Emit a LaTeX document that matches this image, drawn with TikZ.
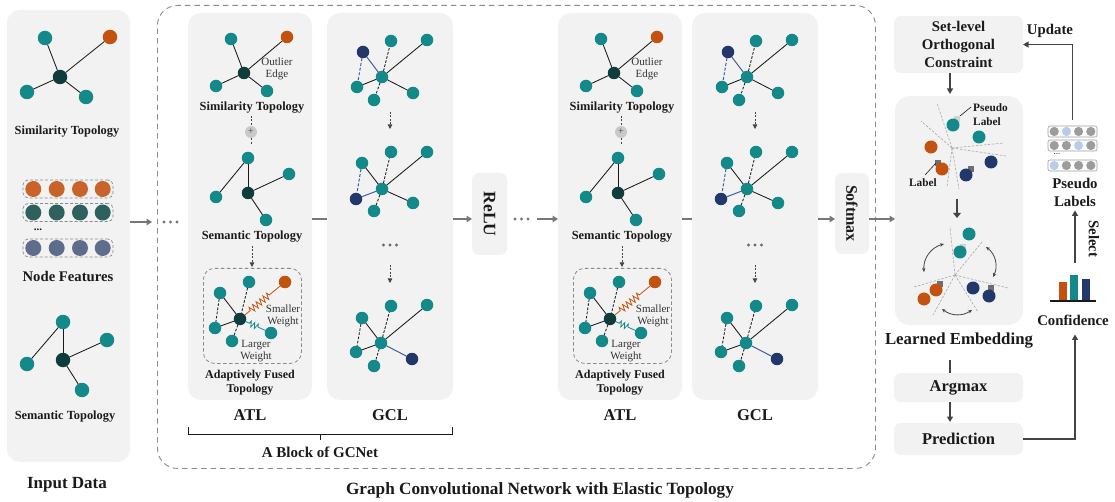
\documentclass[tikz,border=0pt]{standalone}
\usepackage{fontspec}
\setmainfont{Liberation Serif}
\usepackage{graphicx}
\usetikzlibrary{arrows.meta,decorations.pathmorphing,calc}

\definecolor{panelgray}{HTML}{F2F2F2}
\definecolor{tealc}{HTML}{13898A}
\definecolor{darkc}{HTML}{0F3D3D}
\definecolor{orangec}{HTML}{C2520E}
\definecolor{navyc}{HTML}{22386A}
\definecolor{bluee}{HTML}{3F5E9E}
\definecolor{featO}{HTML}{C9632A}
\definecolor{featT}{HTML}{2E615E}
\definecolor{featS}{HTML}{5E6D8C}
\definecolor{arrowg}{HTML}{777777}
\definecolor{darkg}{HTML}{444444}
\definecolor{txt}{HTML}{1A1A1A}
\definecolor{notec}{HTML}{333333}
\definecolor{edgec}{HTML}{1A1A1A}
\definecolor{dashg}{HTML}{8A8A8A}
\definecolor{sepg}{HTML}{A8A8A8}
\definecolor{plgray}{HTML}{9C9C9C}
\definecolor{pllight}{HTML}{B7CBEA}
\definecolor{tagl}{HTML}{D2D2D2}
\definecolor{tagd}{HTML}{6E6E6E}
\definecolor{plusg}{HTML}{C9C9C9}

\begin{document}
\begin{tikzpicture}[x=1pt,y=-1pt,
  panel/.style={fill=panelgray, rounded corners=13pt, anchor=north west, inner sep=0pt, outer sep=0pt},
  box/.style={fill=panelgray, rounded corners=7pt, anchor=north west, inner sep=0pt, outer sep=0pt, text=txt},
  v/.style={circle, inner sep=0pt, outer sep=0pt, minimum size=12.5pt},
  vt/.style={v, fill=tealc}, vd/.style={v, fill=darkc},
  vo/.style={v, fill=orangec}, vn/.style={v, fill=navyc},
  vbig/.style={minimum size=14.5pt},
  ed/.style={line width=0.85pt, draw=edgec},
  edd/.style={ed, dash pattern=on 2.6pt off 1.6pt},
  eb/.style={line width=1pt, draw=bluee},
  ebd/.style={eb, dash pattern=on 3pt off 1.8pt},
  seg/.style={line width=2pt, draw=arrowg},
  arr/.style={line width=1.4pt, draw=arrowg, -{Triangle[length=5.5pt,width=6.5pt]}},
  karr/.style={line width=1.3pt, draw=darkg, -{Triangle[length=5.5pt,width=6pt]}},
  darr/.style={line width=0.8pt, draw=darkg, dash pattern=on 2pt off 1.5pt, -{Triangle[length=4.5pt,width=4.5pt]}},
  dl/.style={line width=0.8pt, draw=darkg, dash pattern=on 2pt off 1.5pt},
  sepline/.style={draw=sepg, line width=0.6pt, dash pattern=on 2.5pt off 1.5pt},
  carr/.style={line width=0.8pt, draw=darkg, {Stealth[length=4pt,width=3.5pt]}-{Stealth[length=4pt,width=3.5pt]}},
  captx/.style={font=\bfseries\fontsize{12.4}{14}\selectfont, text=txt, align=center, inner sep=0pt},
  capm/.style={font=\bfseries\fontsize{12.4}{14}\selectfont, text=txt, align=center, inner sep=0pt},
  headtx/.style={font=\bfseries\fontsize{16.5}{18}\selectfont, text=txt, inner sep=0pt},
  midtx/.style={font=\bfseries\fontsize{14.8}{18}\selectfont, text=txt, align=center, inner sep=0pt},
  notetx/.style={font=\fontsize{11}{12.5}\selectfont, text=notec, align=center, inner sep=0pt},
  smalltx/.style={font=\bfseries\fontsize{11.3}{14}\selectfont, text=txt, inner sep=0pt},
]
\useasboundingbox (0,0) rectangle (1115,502);
\coordinate (row) at (0,219);

% ---------- input data ----------
\node[panel, minimum width=123pt, minimum height=452pt] (inp) at (7,10) {};
\node[vd, vbig] (is0) at (60,77) {};
\node[vt, vbig] (is1) at (45,38) {};
\node[vo, vbig] (is2) at (110,37) {};
\node[vt, vbig] (is3) at (27,92) {};
\node[vt, vbig] (is4) at (86,97) {};
\foreach \n in {1,...,4} \draw[ed] (is0) -- (is\n);
\node[captx] (istxt) at (67,132) {Similarity Topology};

\foreach \y/\c [count=\r] in {189/featO, 212.5/featT, 248/featS} {
  \node[draw=dashg, dash pattern=on 3pt off 2pt, line width=0.7pt, rounded corners=5pt,
        minimum width=90pt, minimum height=18pt, inner sep=0pt] (feat\r) at (68,\y) {};
  \foreach \x in {33.3,56.7,80,102.7} \fill[\c] (\x,\y) circle (8);
}
\node[font=\bfseries\fontsize{11}{11}\selectfont, text=txt] at (38,230) {...};
\node[font=\bfseries\fontsize{14.7}{16}\selectfont, text=txt, inner sep=0pt] (nftxt) at (68,276) {Node Features};

\node[vt, vbig] (im1) at (63,322) {};
\node[vt, vbig] (im2) at (27,364) {};
\node[vd, vbig] (im0) at (63,360) {};
\node[vt, vbig] (im3) at (107,340) {};
\node[vt, vbig] (im4) at (82,390) {};
\draw[ed] (im1) -- (im2);
\draw[ed] (im1) -- (im0);
\draw[ed] (im0) -- (im3);
\draw[ed] (im0) -- (im4);
\node[captx] (imtxt) at (65,417) {Semantic Topology};
\node[font=\bfseries\fontsize{17}{18}\selectfont, text=txt] (inptxt) at (67,485) {Input Data};

% ---------- GCNet frame ----------
\node[draw=dashg, line width=0.9pt, dash pattern=on 5.5pt off 4pt, rounded corners=20pt,
      anchor=north west, minimum width=718pt, minimum height=463pt, inner sep=0pt] (gcn) at (157,5) {};
\node[font=\bfseries\fontsize{17.2}{18}\selectfont, text=txt] (gcntxt) at (540,490)
  {Graph Convolutional Network with Elastic Topology};

\coordinate (gcnin) at (152,222);
\draw[arr] (inp.east |- gcnin) -- (gcnin);
\foreach \i in {0,1,2} \fill[arrowg] (164+\i*6.5,222) circle (1.7);

% ---------- two GCNet blocks ----------
\foreach \ax/\gx/\p in {0/0/a, 370/365/b} {
  \begin{scope}[xshift=\ax pt]
    \node[panel, minimum width=124pt, minimum height=387pt] (\p-atl) at (188,13) {};
    % similarity topology
    \node[vd] (\p-s0) at (244,73) {};
    \node[vt] (\p-s1) at (231,39) {};
    \node[vo] (\p-s2) at (287,37) {};
    \node[vt] (\p-s3) at (216,86) {};
    \node[vt] (\p-s4) at (267,91) {};
    \foreach \n in {1,...,4} \draw[ed] (\p-s0) -- (\p-s\n);
    \node[notetx] at (277,69) {Outlier\\Edge};
    \node[capm] (\p-simtxt) at (252,108) {Similarity Topology};
    \node[circle, fill=plusg, minimum size=12pt, inner sep=0pt, text=darkg,
          font=\fontsize{10}{10}\selectfont] (\p-plus) at (251,132) {+};
    \draw[dl] (\p-simtxt.south) ++(-1,2) -- (\p-plus);
    \draw[dl, shorten >=6pt] (\p-plus) -- (\p-plus |- 0,151);
    % semantic topology
    \node[vt] (\p-m1) at (248,158) {};
    \node[vt] (\p-m2) at (216,197) {};
    \node[vd] (\p-m0) at (248,193) {};
    \node[vt] (\p-m3) at (289,174) {};
    \node[vt] (\p-m4) at (266,220) {};
    \draw[ed] (\p-m1) -- (\p-m2);
    \draw[ed] (\p-m1) -- (\p-m0);
    \draw[ed] (\p-m0) -- (\p-m3);
    \draw[ed] (\p-m0) -- (\p-m4);
    \node[capm] (\p-semtxt) at (252,237) {Semantic Topology};
    % adaptively fused topology
    \node[draw=dashg, line width=0.8pt, dash pattern=on 3.5pt off 2.5pt, rounded corners=11pt,
          anchor=north west, minimum width=98pt, minimum height=95pt, inner sep=0pt] (\p-fbox) at (203,268) {};
    \draw[darr, shorten <=3pt, shorten >=1pt] (\p-semtxt.south) -- (\p-fbox.north -| \p-semtxt.south);
    \node[vt] (\p-f1) at (220,293) {};
    \node[vt] (\p-f2) at (249,282) {};
    \node[vo] (\p-f3) at (285,282) {};
    \node[vd] (\p-f0) at (240,319) {};
    \node[vt] (\p-f4) at (215,328) {};
    \node[vt] (\p-f5) at (232,341) {};
    \node[vt] (\p-f6) at (271,333) {};
    \draw[ed] (\p-f1) -- (\p-f0);
    \draw[edd] (\p-f1) -- (\p-f4);
    \draw[edd] (\p-f2) -- (\p-f0);
    \draw[ed] (\p-f4) -- (\p-f0);
    \draw[edd] (\p-f0) -- (\p-f5);
    \draw[orangec, line width=0.8pt, decorate,
          decoration={zigzag, segment length=4.5pt, amplitude=3.2pt, pre length=7pt, post length=13pt}] (\p-f0) -- (\p-f3);
    \draw[tealc, line width=0.8pt, decorate,
          decoration={zigzag, segment length=3.8pt, amplitude=2.8pt, pre length=4pt, post length=7pt}] (\p-f0) -- (\p-f6);
    \node[notetx] at (283,316) {Smaller\\Weight};
    \node[notetx] at (256,351) {Larger\\Weight};
    \node[capm, font=\bfseries\fontsize{12}{14}\selectfont] at (250,383) {Adaptively Fused\\Topology};
    \node[headtx] at (250,415) {ATL};
  \end{scope}
  \begin{scope}[xshift=\gx pt]
    \node[panel, minimum width=126pt, minimum height=387pt] (\p-gcl) at (327,13) {};
    % first layer
    \node[vt] (\p-ac) at (382,77) {};
    \node[vn] (\p-an) at (363,52) {};
    \node[vt] (\p-a1) at (391,41) {};
    \node[vt] (\p-a2) at (427,40) {};
    \node[vt] (\p-a3) at (357,87) {};
    \node[vt] (\p-a4) at (374,100) {};
    \node[vt] (\p-a5) at (413,93) {};
    \draw[eb] (\p-an) -- (\p-ac);
    \draw[ebd] (\p-an) -- (\p-a3);
    \draw[edd] (\p-ac) -- (\p-a1);
    \draw[ed] (\p-ac) -- (\p-a2);
    \draw[ed] (\p-ac) -- (\p-a3);
    \draw[edd] (\p-ac) -- (\p-a4);
    \draw[ed] (\p-ac) -- (\p-a5);
    \coordinate (\p-d1) at (390,112);
    \coordinate (\p-d2) at (390,129);
    \draw[darr] (\p-d1) -- (\p-d2);
    % second layer
    \node[vt] (\p-bc) at (382,189) {};
    \node[vt] (\p-b0) at (362,163) {};
    \node[vt] (\p-b1) at (391,152) {};
    \node[vt] (\p-b2) at (427,152) {};
    \node[vn] (\p-bn) at (356,199) {};
    \node[vt] (\p-b4) at (374,211) {};
    \node[vt] (\p-b5) at (413,203) {};
    \draw[ed] (\p-b0) -- (\p-bc);
    \draw[ebd] (\p-b0) -- (\p-bn);
    \draw[eb] (\p-bn) -- (\p-bc);
    \draw[edd] (\p-bc) -- (\p-b1);
    \draw[ed] (\p-bc) -- (\p-b2);
    \draw[edd] (\p-bc) -- (\p-b4);
    \draw[ed] (\p-bc) -- (\p-b5);
    \foreach \i in {-1,0,1} \fill[darkg!80] (390+\i*6.5,245) circle (1.7);
    \coordinate (\p-d3) at (390,265);
    \coordinate (\p-d4) at (390,283);
    \draw[darr] (\p-d3) -- (\p-d4);
    % last layer
    \node[vt] (\p-cc) at (381,343) {};
    \node[vt] (\p-c0) at (362,318) {};
    \node[vt] (\p-c1) at (391,306) {};
    \node[vt] (\p-c2) at (427,305) {};
    \node[vt] (\p-c3) at (356,352) {};
    \node[vt] (\p-c4) at (374,366) {};
    \node[vn] (\p-cn) at (412,359) {};
    \draw[ed] (\p-c0) -- (\p-cc);
    \draw[edd] (\p-c0) -- (\p-c3);
    \draw[edd] (\p-cc) -- (\p-c1);
    \draw[ed] (\p-cc) -- (\p-c2);
    \draw[ed] (\p-cc) -- (\p-c3);
    \draw[edd] (\p-cc) -- (\p-c4);
    \draw[eb] (\p-cc) -- (\p-cn);
    \node[headtx] at (390,415) {GCL};
  \end{scope}
  \draw[seg] (\p-atl.east |- row) -- (\p-gcl.west |- row);
}

% brace under the first block
\coordinate (brl) at (188,427);
\coordinate (brr) at (452,427);
\coordinate (brm) at (320,434);
\draw[line width=1pt, txt] (brl) -- (brl |- brm) -- (brr |- brm) -- (brr);
\draw[line width=1pt, txt] (brm) -- ++(0,6);
\node[font=\bfseries\fontsize{15}{16}\selectfont, text=txt] (blocktxt) at (320,452) {A Block of GCNet};

% ReLU and Softmax
\node[box, anchor=center, minimum width=35pt, minimum height=82pt,
      font=\bfseries\fontsize{17.5}{18}\selectfont] (relu) at (489.5,214) {\rotatebox{-90}{ReLU}};
\node[box, anchor=center, minimum width=34pt, minimum height=81pt,
      font=\bfseries\fontsize{16}{18}\selectfont] (soft) at (852,213.5) {\rotatebox{-90}{Softmax}};
\draw[arr] (a-gcl.east |- row) -- (relu.west |- row);
\foreach \i in {0,1,2} \fill[arrowg] (515+\i*6.5,219) circle (1.7);
\coordinate (bdots) at (537,219);
\draw[arr] (bdots) -- (b-atl.west |- row);
\draw[arr] (b-gcl.east |- row) -- (soft.west |- row);

% ---------- right part ----------
\node[panel, minimum width=128pt, minimum height=229pt, rounded corners=15pt] (emb) at (895,96) {};
\draw[arr] (soft.east |- row) -- (emb.west |- row);

\node[box, minimum width=129pt, minimum height=57pt, align=center,
      font=\bfseries\fontsize{14.8}{18}\selectfont] (solc) at (894,16) {Set-level\\Orthogonal\\Constraint};
\coordinate (vx) at (950,0);
\draw[karr, shorten >=2pt] (solc.south -| vx) -- (emb.north -| vx);

% embedding before training
\coordinate (ec1) at (952,148);
\foreach \t in {(937,103),(921,121),(1004,143),(1006,156),(947,187),(959,189)} \draw[sepline] (ec1) -- \t;
\fill[tagl] (954,116) rectangle ++(6,6);
\fill[tagd] (935,160) rectangle ++(6,6);
\fill[tagd] (968,166) rectangle ++(6,6);
\node[vt, minimum size=13pt] (e1) at (953,125) {};
\node[vt, minimum size=13pt] (e2) at (979,137) {};
\node[vo, minimum size=13pt] (e3) at (931,147) {};
\node[vo, minimum size=13pt] (e4) at (942,169) {};
\node[vn, minimum size=13pt] (e5) at (966,175) {};
\node[vn, minimum size=13pt] (e6) at (991,162) {};
\node[smalltx, align=left, anchor=west] (pltag) at (973,115) {Pseudo\\Label};
\draw[line width=0.6pt, txt] (960,116) -- (971,107);
\node[smalltx] (ltag) at (923,183) {Label};
\draw[line width=0.6pt, txt] (936,163) -- (925,175);

\coordinate (ta) at (957,199);
\coordinate (tb) at (957,218);
\draw[line width=2pt, draw=darkg, -{Triangle[length=5pt,width=7.5pt]}] (ta) -- (tb);

% embedding after training
\coordinate (ec2) at (955,275);
\foreach \t in {(950,227),(982,242),(914,287),(1008,288),(933,315),(978,312)} \draw[sepline] (ec2) -- \t;
\fill[tagl] (960,244) rectangle ++(6,6);
\fill[tagd] (937,281) rectangle ++(6,6);
\fill[tagd] (988,285) rectangle ++(6,6);
\node[vt, minimum size=13pt] (f1) at (969,234) {};
\node[vt, minimum size=13pt] (f2) at (960,252) {};
\node[vo, minimum size=13pt] (f3) at (936,290) {};
\node[vo, minimum size=13pt] (f4) at (924,299) {};
\node[vn, minimum size=13pt] (f5) at (973,288) {};
\node[vn, minimum size=13pt] (f6) at (989,296) {};
\draw[carr] (944,244) to[bend right=40] (924,272);
\draw[carr] (986,247) to[bend left=40] (993,277);
\draw[carr] (942,309) to[bend right=35] (972,310);

\node[font=\bfseries\fontsize{16.8}{18}\selectfont, text=txt] (lemb) at (959,341) {Learned Embedding};
\node[box, minimum width=129pt, minimum height=29pt, font=\bfseries\fontsize{16.5}{18}\selectfont] (argm) at (894,373) {Argmax};
\node[box, minimum width=129pt, minimum height=32pt, font=\bfseries\fontsize{16.5}{18}\selectfont] (pred) at (894,423) {Prediction};
\draw[line width=1.3pt, draw=darkg, shorten <=8pt] (lemb.south -| vx) -- (argm.north -| vx);
\draw[karr, shorten >=1pt] (argm.south -| vx) -- (pred.north -| vx);

% pseudo labels
\foreach \y/\h [count=\r] in {131.5/2, 145.5/3, 165.5/1} {
  \node[draw=plgray, line width=0.6pt, rounded corners=2pt, minimum width=49pt, minimum height=11pt,
        inner sep=0pt] (pl\r) at (1072.5,\y) {};
  \foreach \x [count=\k] in {1054.2,1066.4,1078.6,1090.8} {
    \ifnum\k=\h \fill[pllight] (\x,\y) circle (4.6); \else \fill[plgray] (\x,\y) circle (4.6); \fi
  }
}
\node[font=\fontsize{9}{9}\selectfont, text=txt] at (1057,154) {...};
\node[midtx] (pltxt) at (1075,192) {Pseudo\\Labels};
\node[midtx] (updtxt) at (1050,31) {Update};
\draw[karr, shorten <=6pt] (pl1.north) |- (solc.east);

% confidence
\fill[orangec] (1059,282) rectangle (1067,301);
\fill[tealc] (1070,275) rectangle (1078,301);
\fill[navyc] (1082,279) rectangle (1090,301);
\draw[line width=1.6pt, txt] (1050,301) -- (1096,301);
\node[midtx] (conftxt) at (1073,320) {Confidence};
\coordinate (selbot) at (1075,263);
\draw[karr, shorten >=4pt] (selbot) -- (pltxt.south -| selbot);
\node[midtx] (seltxt) at (1094,239) {\rotatebox{-90}{Select}};
\draw[karr, shorten >=9pt] (pred.east) -| (conftxt.south -| selbot);
\end{tikzpicture}
\end{document}
